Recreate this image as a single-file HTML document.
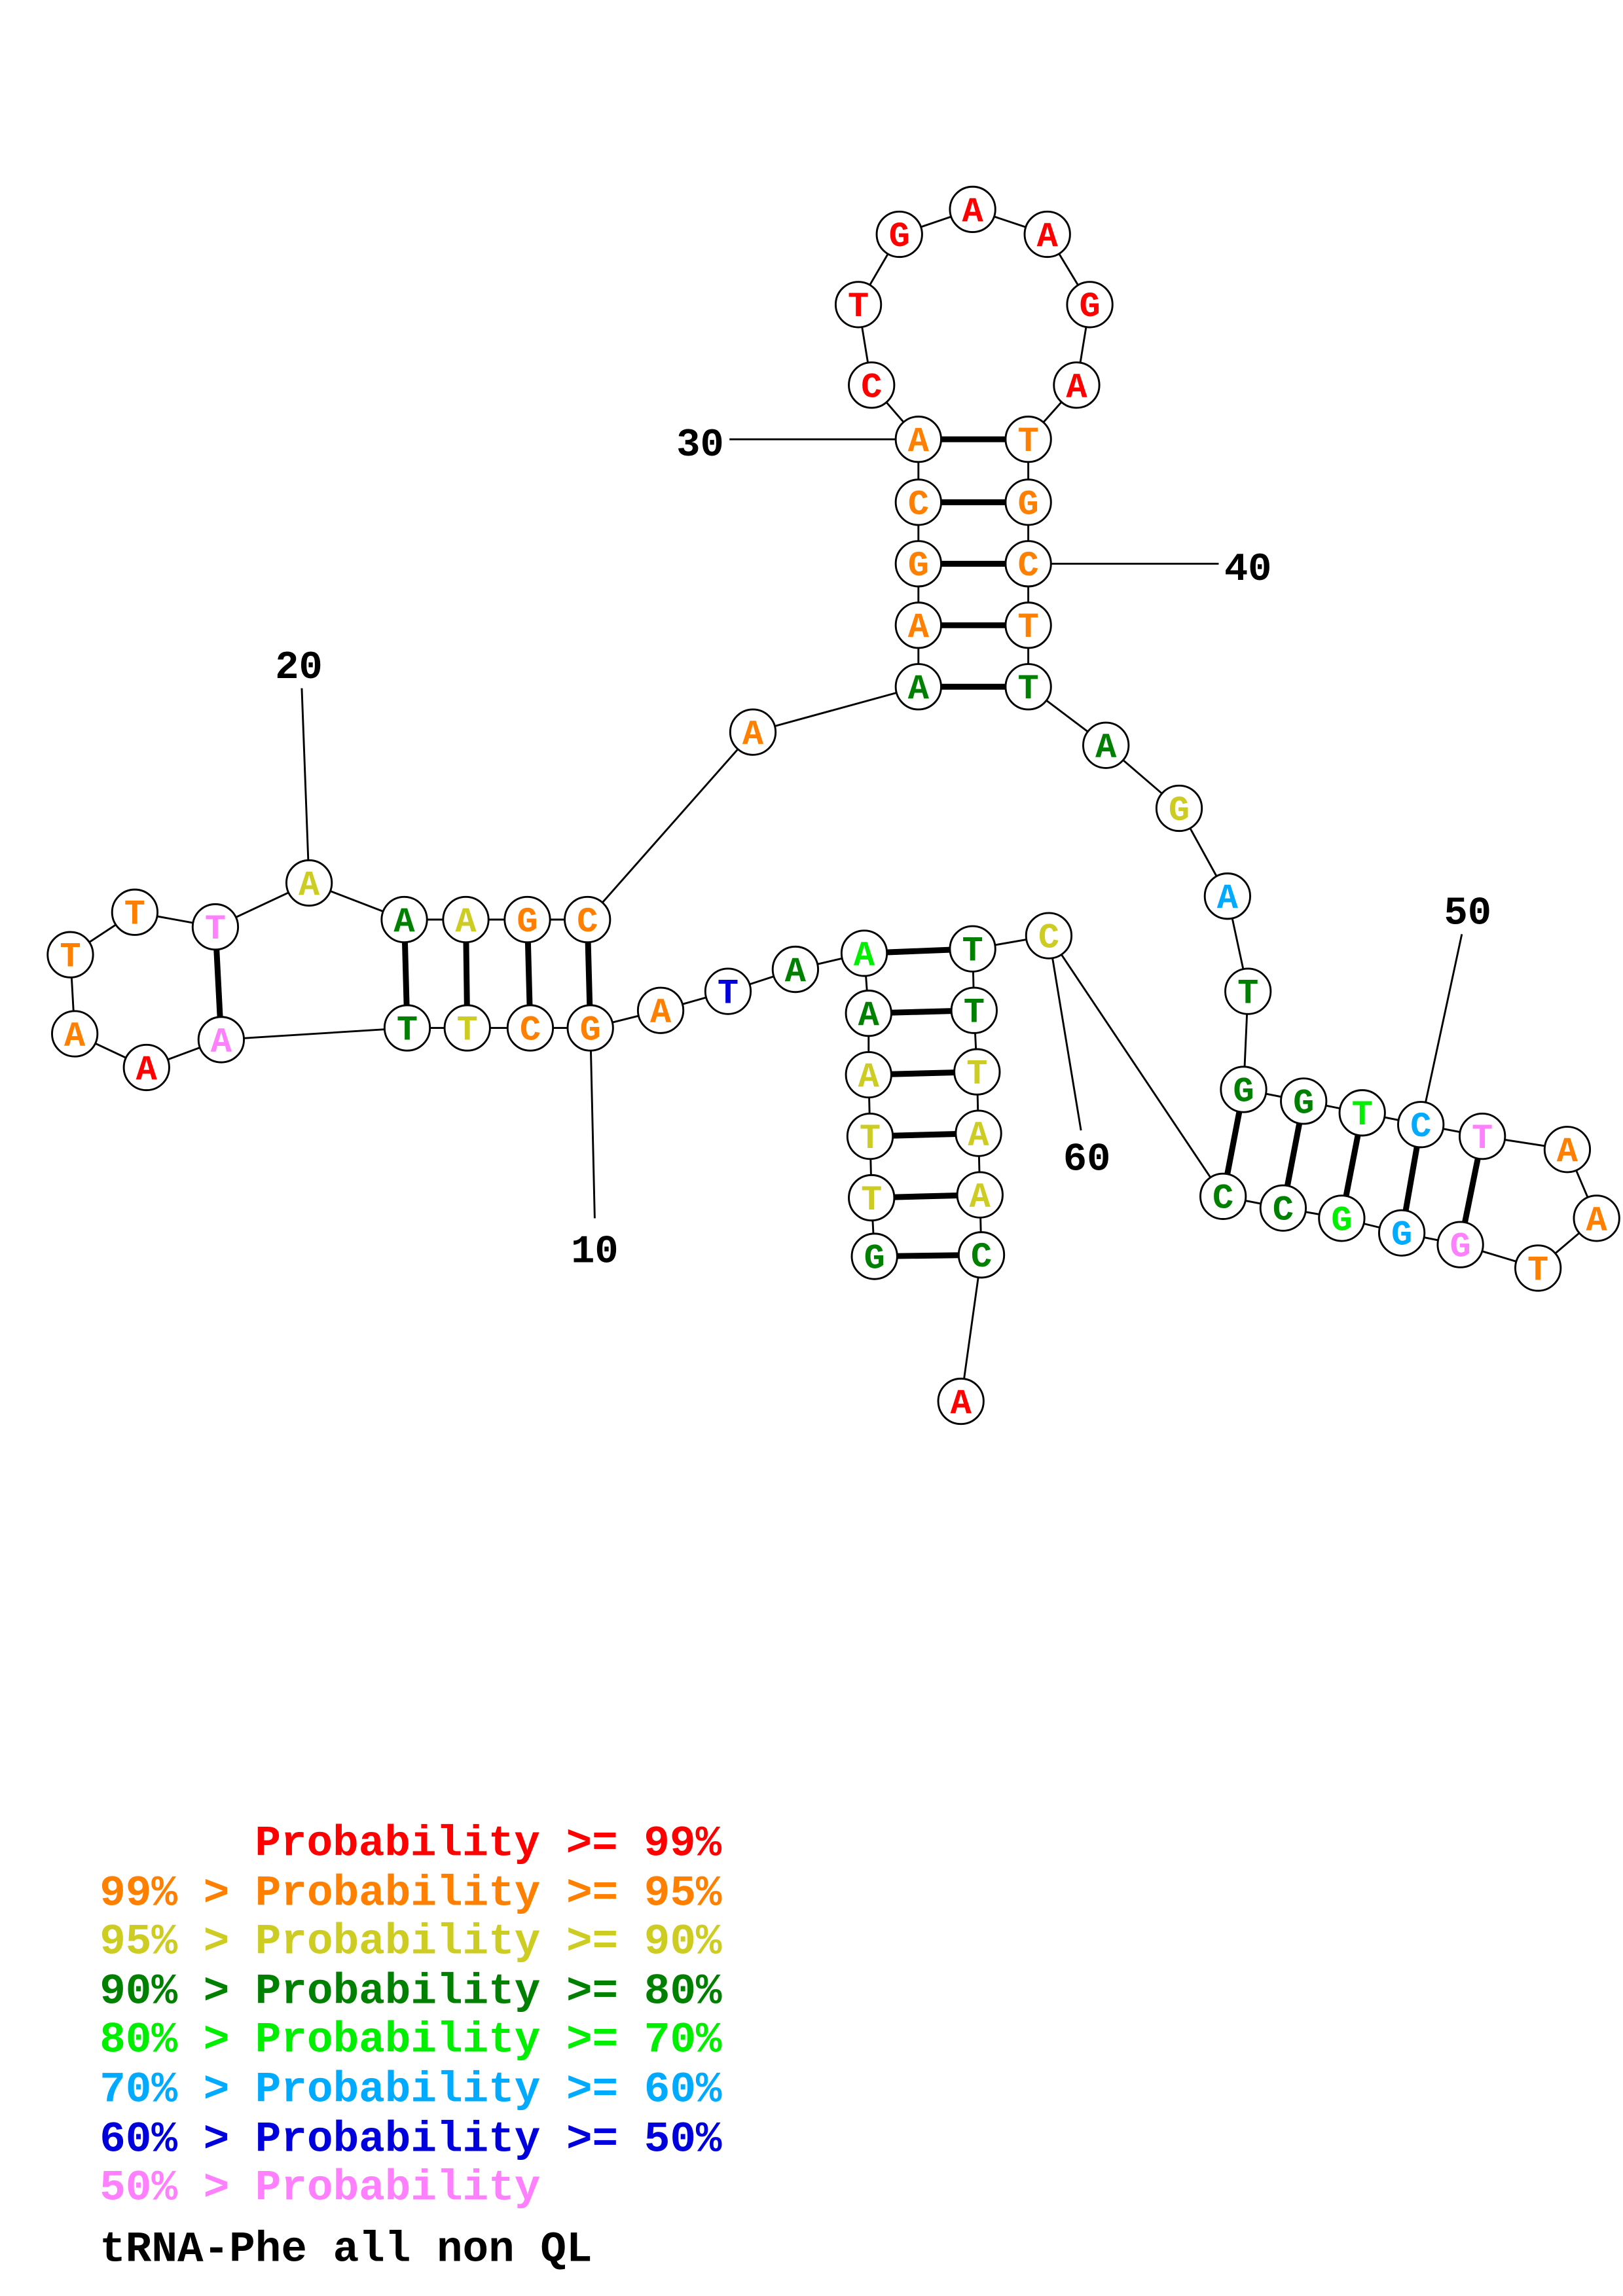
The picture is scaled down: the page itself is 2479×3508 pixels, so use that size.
<!DOCTYPE html>
<html><head><meta charset="utf-8"><style>html,body{margin:0;padding:0;background:#fff}svg{display:block}</style></head>
<body>
<svg xmlns="http://www.w3.org/2000/svg" width="2479" height="3508" viewBox="0 0 1108 1568">
<rect width="1108" height="1568" fill="#fff"/>
<g stroke="#000" stroke-width="1.3" fill="none">
<polyline points="597,858 595,818 594,776 593,734 593,692 590,651 543,662 497,677 451,690 403,702 362,702 319,702 278,702 151,710 100,729 51,706 48,652 92,623 147,633 211,603 276,628 318,628 360,628 401,628 514,500 627,469 627,427 627,385 627,343 627,300 595,263 586,208 614,160 664,143 715,160 744,208 735,263 702,300 702,343 702,385 702,427 702,469 755,509 805,552 838,612 852,677 849,744 890,752 930,760 970,768 1012,776 1070,785 1090,832 1050,866 997,850 957,842 916,832 876,825 835,817 716,639 664,648 665,690 667,732 668,774 669,816 670,857 656,957"/>
<line x1="403" y1="702" x2="406" y2="832"/>
<line x1="211" y1="603" x2="206" y2="470"/>
<line x1="627" y1="300" x2="498" y2="300"/>
<line x1="702" y1="385" x2="832" y2="385"/>
<line x1="970" y1="768" x2="998" y2="638"/>
<line x1="716" y1="639" x2="738" y2="772"/>
</g>
<g stroke="#000" stroke-width="4">
<line x1="590" y1="651" x2="664" y2="648"/><line x1="593" y1="692" x2="665" y2="690"/><line x1="593" y1="734" x2="667" y2="732"/><line x1="594" y1="776" x2="668" y2="774"/><line x1="595" y1="818" x2="669" y2="816"/><line x1="597" y1="858" x2="670" y2="857"/>
<line x1="276" y1="628" x2="278" y2="702"/><line x1="318" y1="628" x2="319" y2="702"/><line x1="360" y1="628" x2="362" y2="702"/><line x1="401" y1="628" x2="403" y2="702"/>
<line x1="147" y1="633" x2="151" y2="710"/>
<line x1="627" y1="300" x2="702" y2="300"/><line x1="627" y1="343" x2="702" y2="343"/><line x1="627" y1="385" x2="702" y2="385"/><line x1="627" y1="427" x2="702" y2="427"/><line x1="627" y1="469" x2="702" y2="469"/>
<line x1="849" y1="744" x2="835" y2="817"/><line x1="890" y1="752" x2="876" y2="825"/><line x1="930" y1="760" x2="916" y2="832"/><line x1="970" y1="768" x2="957" y2="842"/><line x1="1012" y1="776" x2="997" y2="850"/>
</g>
<g fill="#fff" stroke="#000" stroke-width="1.3">
<circle cx="614" cy="160" r="15.5"/><circle cx="664" cy="143" r="15.5"/><circle cx="715" cy="160" r="15.5"/><circle cx="744" cy="208" r="15.5"/><circle cx="735" cy="263" r="15.5"/><circle cx="595" cy="263" r="15.5"/><circle cx="586" cy="208" r="15.5"/>
<circle cx="627" cy="300" r="15.5"/><circle cx="627" cy="343" r="15.5"/><circle cx="627" cy="385" r="15.5"/><circle cx="627" cy="427" r="15.5"/><circle cx="627" cy="469" r="15.5"/>
<circle cx="702" cy="300" r="15.5"/><circle cx="702" cy="343" r="15.5"/><circle cx="702" cy="385" r="15.5"/><circle cx="702" cy="427" r="15.5"/><circle cx="702" cy="469" r="15.5"/>
<circle cx="755" cy="509" r="15.5"/><circle cx="805" cy="552" r="15.5"/><circle cx="838" cy="612" r="15.5"/><circle cx="852" cy="677" r="15.5"/><circle cx="849" cy="744" r="15.5"/><circle cx="890" cy="752" r="15.5"/><circle cx="930" cy="760" r="15.5"/><circle cx="970" cy="768" r="15.5"/><circle cx="1012" cy="776" r="15.5"/><circle cx="1070" cy="785" r="15.5"/><circle cx="1090" cy="832" r="15.5"/><circle cx="1050" cy="866" r="15.5"/><circle cx="997" cy="850" r="15.5"/><circle cx="957" cy="842" r="15.5"/><circle cx="916" cy="832" r="15.5"/><circle cx="876" cy="825" r="15.5"/><circle cx="835" cy="817" r="15.5"/>
<circle cx="716" cy="639" r="15.5"/><circle cx="664" cy="648" r="15.5"/><circle cx="665" cy="690" r="15.5"/><circle cx="667" cy="732" r="15.5"/><circle cx="668" cy="774" r="15.5"/><circle cx="669" cy="816" r="15.5"/><circle cx="670" cy="857" r="15.5"/><circle cx="656" cy="957" r="15.5"/>
<circle cx="597" cy="858" r="15.5"/><circle cx="595" cy="818" r="15.5"/><circle cx="594" cy="776" r="15.5"/><circle cx="593" cy="734" r="15.5"/><circle cx="593" cy="692" r="15.5"/><circle cx="590" cy="651" r="15.5"/><circle cx="543" cy="662" r="15.5"/><circle cx="497" cy="677" r="15.5"/><circle cx="451" cy="690" r="15.5"/><circle cx="403" cy="702" r="15.5"/><circle cx="362" cy="702" r="15.5"/><circle cx="319" cy="702" r="15.5"/><circle cx="278" cy="702" r="15.5"/><circle cx="151" cy="710" r="15.5"/><circle cx="100" cy="729" r="15.5"/><circle cx="51" cy="706" r="15.5"/><circle cx="48" cy="652" r="15.5"/><circle cx="92" cy="623" r="15.5"/><circle cx="147" cy="633" r="15.5"/><circle cx="211" cy="603" r="15.5"/><circle cx="276" cy="628" r="15.5"/><circle cx="318" cy="628" r="15.5"/><circle cx="360" cy="628" r="15.5"/><circle cx="401" cy="628" r="15.5"/><circle cx="514" cy="500" r="15.5"/>
</g>
<g font-family="Liberation Mono, monospace" font-weight="bold" font-size="24" text-anchor="middle">
<g fill="#ff0000"><text x="614" y="168">G</text><text x="664" y="151">A</text><text x="715" y="168">A</text><text x="744" y="216">G</text><text x="735" y="271">A</text><text x="595" y="271">C</text><text x="586" y="216">T</text><text x="656" y="965">A</text><text x="100" y="737">A</text></g>
<g fill="#ff8000"><text x="627" y="308">A</text><text x="627" y="351">C</text><text x="627" y="393">G</text><text x="627" y="435">A</text><text x="702" y="308">T</text><text x="702" y="351">G</text><text x="702" y="393">C</text><text x="702" y="435">T</text><text x="1070" y="793">A</text><text x="1090" y="840">A</text><text x="1050" y="874">T</text><text x="451" y="698">A</text><text x="403" y="710">G</text><text x="362" y="710">C</text><text x="51" y="714">A</text><text x="48" y="660">T</text><text x="92" y="631">T</text><text x="360" y="636">G</text><text x="401" y="636">C</text><text x="514" y="508">A</text></g>
<g fill="#cccc22"><text x="805" y="560">G</text><text x="716" y="647">C</text><text x="667" y="740">T</text><text x="668" y="782">A</text><text x="669" y="824">A</text><text x="595" y="826">T</text><text x="594" y="784">T</text><text x="593" y="742">A</text><text x="319" y="710">T</text><text x="211" y="611">A</text><text x="318" y="636">A</text></g>
<g fill="#008000"><text x="627" y="477">A</text><text x="702" y="477">T</text><text x="755" y="517">A</text><text x="852" y="685">T</text><text x="849" y="752">G</text><text x="890" y="760">G</text><text x="876" y="833">C</text><text x="835" y="825">C</text><text x="664" y="656">T</text><text x="665" y="698">T</text><text x="670" y="865">C</text><text x="597" y="866">G</text><text x="593" y="700">A</text><text x="543" y="670">A</text><text x="278" y="710">T</text><text x="276" y="636">A</text></g>
<g fill="#00ee00"><text x="930" y="768">T</text><text x="916" y="840">G</text><text x="590" y="659">A</text></g>
<g fill="#00aaff"><text x="838" y="620">A</text><text x="970" y="776">C</text><text x="957" y="850">G</text></g>
<g fill="#0000dd"><text x="497" y="685">T</text></g>
<g fill="#ff80ff"><text x="1012" y="784">T</text><text x="997" y="858">G</text><text x="151" y="718">A</text><text x="147" y="641">T</text></g>
</g>
<g font-family="Liberation Mono, monospace" font-weight="bold" font-size="27" fill="#000" text-anchor="middle">
<text x="406" y="862">10</text><text x="204" y="463">20</text><text x="478" y="311">30</text><text x="852" y="396">40</text><text x="1002" y="631">50</text><text x="742" y="799">60</text>
</g>
<g font-family="Liberation Mono, monospace" font-weight="bold" font-size="29.5">
<text x="174" y="1267" fill="#ff0000">Probability &gt;= 99%</text>
<text x="68" y="1301" fill="#ff8000">99% &gt; Probability &gt;= 95%</text>
<text x="68" y="1334" fill="#cccc22">95% &gt; Probability &gt;= 90%</text>
<text x="68" y="1368" fill="#008000">90% &gt; Probability &gt;= 80%</text>
<text x="68" y="1401" fill="#00ee00">80% &gt; Probability &gt;= 70%</text>
<text x="68" y="1435" fill="#00aaff">70% &gt; Probability &gt;= 60%</text>
<text x="68" y="1469" fill="#0000dd">60% &gt; Probability &gt;= 50%</text>
<text x="68" y="1502" fill="#ff80ff">50% &gt; Probability</text>
<text x="68" y="1544" fill="#000">tRNA-Phe all non QL</text>
</g>
</svg>
</body></html>
